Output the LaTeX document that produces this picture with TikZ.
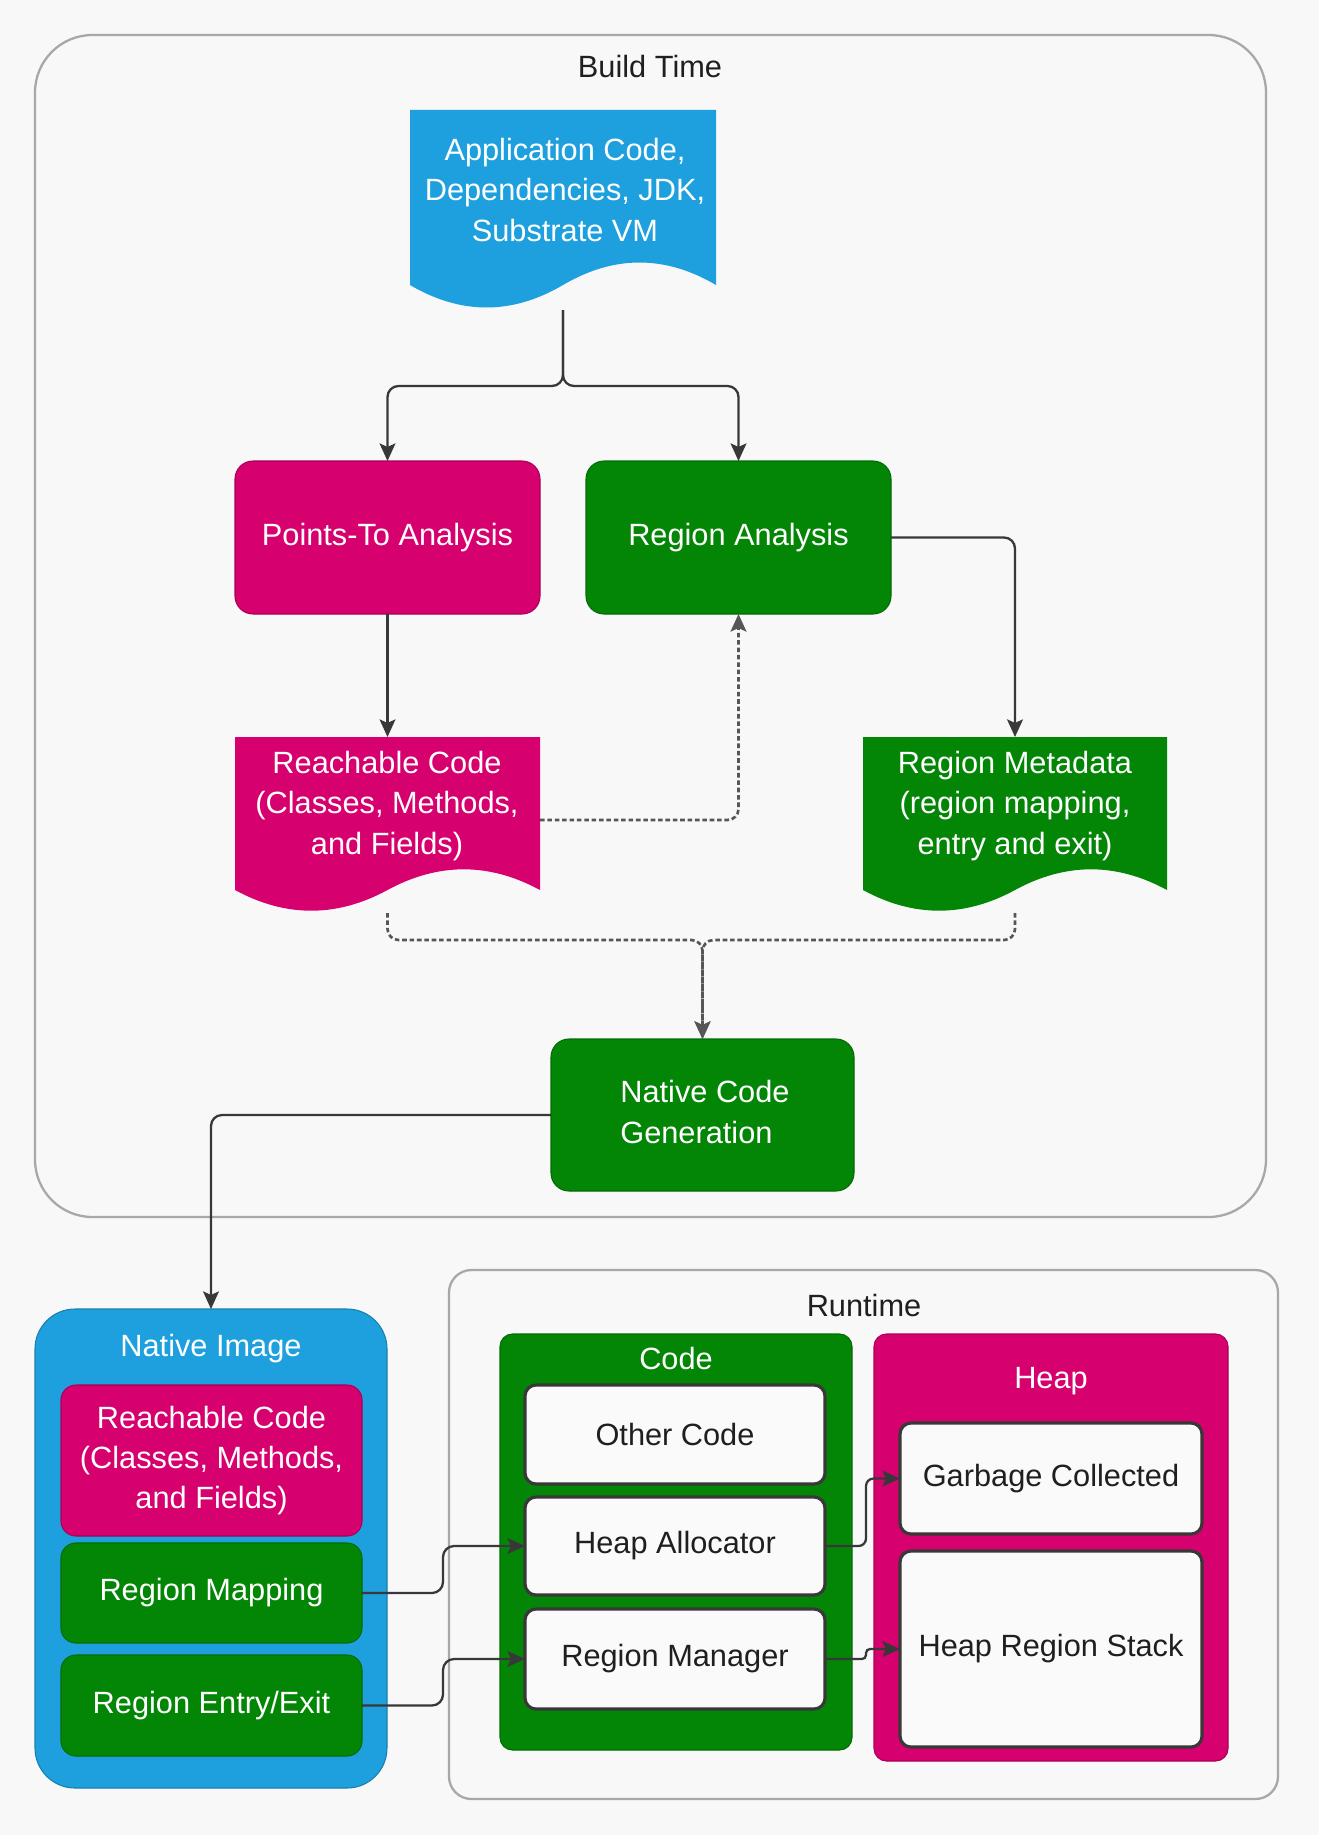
\documentclass[tikz,border=0pt]{standalone}
\usepackage{fontspec}
\setmainfont{Liberation Sans}
\usetikzlibrary{arrows.meta}
\definecolor{bgc}{HTML}{F8F8F8}
\definecolor{blu}{HTML}{1DA0DD}
\definecolor{mag}{HTML}{D6006E}
\definecolor{grn}{HTML}{038605}
\definecolor{lin}{HTML}{383838}
\definecolor{frm}{HTML}{A8A8A8}
\definecolor{wfill}{HTML}{FAFAFA}
\newcommand\bx[7]{\node[#6, minimum width={(#4-#2)*0.02cm}, minimum height={(#5-#3)*0.02cm}, inner sep=0pt, outer sep=0pt] (#1) at ({(#2+#4)/2},{(#3+#5)/2}) {#7};}
\newcommand\docsh[7]{%
 \fill[#7] (#2,#3) -- (#4,#3) -- (#4,{#5-0.5*#6})
   .. controls ({#4-(#4-#2)/6},{#5-1.1*#6}) and ({#2+2*(#4-#2)/3},{#5-1.1*#6}) .. ({(#2+#4)/2},{#5-0.5*#6})
   .. controls ({#2+(#4-#2)/3},{#5+0.1*#6}) and ({#2+(#4-#2)/6},{#5+0.1*#6}) .. (#2,{#5-0.5*#6}) -- cycle;
 \node[minimum width={(#4-#2)*0.02cm}, minimum height={(#5-#3)*0.02cm}, inner sep=0pt, outer sep=0pt] (#1) at ({(#2+#4)/2},{(#3+#5)/2}) {};}
\begin{document}
\begin{tikzpicture}[x=0.02cm,y=-0.02cm,
  txt/.style={font=\fontsize{17.5}{22.8}\selectfont, align=center, inner sep=0pt},
  wtxt/.style={txt, text=white},
  ktxt/.style={txt, text=black!88},
  cbox/.style={fill=#1, draw=#1!80!black, line width=0.6pt, rounded corners=0.36cm, wtxt},
  wbox/.style={fill=wfill, draw=lin, line width=1.8pt, rounded corners=0.22cm, ktxt},
  outerbox/.style={fill=bgc, draw=frm, line width=1.3pt, rounded corners=1.15cm},
  conn/.style={draw=lin, line width=1.3pt, -{Stealth[length=10pt,width=9pt,inset=2pt]}, rounded corners=0.22cm},
  dconn/.style={conn, draw=lin!85, line width=1.5pt, dash pattern=on 2.6pt off 1.6pt}]
\fill[bgc] (0,0) rectangle (1319,1835);
\useasboundingbox (0,0) rectangle (1319,1835);

% Build time
\bx{build}{35}{35}{1266}{1217}{outerbox}{}
\node[ktxt] (buildlbl) at (650,67) {Build Time};

\docsh{app}{410}{110}{716}{310}{50}{blu}
\node[wtxt] (appt) at (565,190) {Application Code,\\Dependencies, JDK,\\Substrate VM};

\bx{pta}{235}{461}{540}{614}{cbox=mag}{Points-To Analysis}
\bx{ra}{586}{461}{891}{614}{cbox=grn}{Region Analysis}

\docsh{reach}{235}{737}{540}{913}{46}{mag}
\node[wtxt] (reacht) at (387,806) {Reachable Code\\(Classes, Methods,\\and Fields)};
\docsh{meta}{863}{737}{1167}{913}{46}{grn}
\node[wtxt] (metat) at (1015,806) {Region Metadata\\(region mapping,\\entry and exit)};

\bx{ncg}{551}{1039}{854}{1191}{cbox=grn}{}
\node[wtxt, align=left, anchor=west] (ncgt) at (620,1112) {Native Code\\Generation};

% Native image
\bx{ni}{35}{1309}{387}{1788}{cbox=blu, rounded corners=0.8cm}{}
\node[wtxt] (nilbl) at (211,1349) {Native Image};
\bx{nireach}{61}{1385}{362}{1536}{cbox=mag, rounded corners=0.3cm}{Reachable Code\\(Classes, Methods,\\and Fields)}
\bx{rmap}{61}{1543}{362}{1643}{cbox=grn, rounded corners=0.3cm}{Region Mapping}
\bx{ree}{61}{1655}{362}{1756}{cbox=grn, rounded corners=0.3cm}{Region Entry/Exit}

% Runtime
\bx{rt}{449}{1270}{1278}{1799}{outerbox, rounded corners=0.45cm}{}
\node[ktxt] (rtlbl) at (864,1305) {Runtime};
\bx{code}{500}{1334}{852}{1750}{cbox=grn, rounded corners=0.25cm}{}
\node[wtxt] (codelbl) at (676,1358) {Code};
\bx{oc}{525}{1385}{825}{1484}{wbox}{Other Code}
\bx{ha}{525}{1497}{825}{1595}{wbox}{Heap Allocator}
\bx{rmg}{525}{1609}{825}{1709}{wbox}{Region Manager}
\bx{heap}{874}{1334}{1228}{1761}{cbox=mag, rounded corners=0.25cm}{}
\node[wtxt] (heaplbl) at (1051,1381) {Heap};
\bx{gc}{900}{1423}{1202}{1534}{wbox}{Garbage Collected}
\bx{hrs}{900}{1551}{1202}{1747}{wbox}{Heap Region Stack}

% connectors
\draw[conn] (app.south) -- ++(0,76) -| (pta.north);
\draw[conn] (app.south) -- ++(0,76) -| (ra.north);
\draw[conn] (pta.south) -- (reach.north);
\draw[conn] (ra.east) -| (meta.north);
\draw[dconn] ([yshift=0.1cm]reach.east) -| (ra.south);
\draw[dconn] (reach.south) -- ++(0,27) -| (ncg.north);
\draw[dconn] (meta.south) -- ++(0,27) -| (ncg.north);
\draw[conn] (ncg.west) -| (ni.north);
\draw[conn] (rmap.east) -- ++(81,0) |- (ha.west);
\draw[conn] (ree.east) -- ++(81,0) |- (rmg.west);
\draw[conn, rounded corners=0.15cm] (ha.east) -- ++(41,0) |- (gc.west);
\draw[conn, rounded corners=0.08cm] (rmg.east) -- ++(41,0) |- (hrs.west);
\end{tikzpicture}
\end{document}
